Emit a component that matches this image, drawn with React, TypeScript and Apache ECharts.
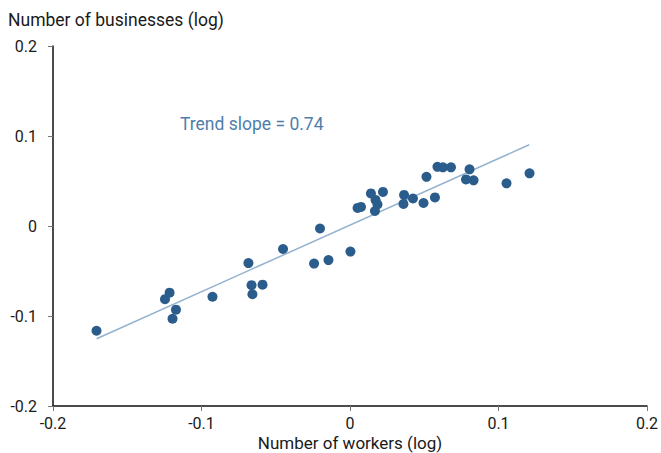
import React, { useEffect, useRef } from "react";
import * as echarts from "echarts";

// Log changes by area: workers (x) vs businesses (y)
const workersLog = [
  -0.1707, -0.1246, -0.1215, -0.1172, -0.1195, -0.0926, -0.0684, -0.0663, -0.0657,
  -0.0589, -0.0451, -0.0242, -0.0202, -0.0145, 0.0003, 0.0051, 0.0074, 0.0141,
  0.0222, 0.0172, 0.0185, 0.0168, 0.0364, 0.036, 0.0424, 0.0495, 0.0572, 0.0515,
  0.0589, 0.0626, 0.068, 0.0805, 0.0781, 0.0832, 0.1054, 0.1209,
];
const businessesLog = [
  -0.1164, -0.0813, -0.0741, -0.093, -0.1031, -0.0786, -0.0412, -0.0657, -0.0758,
  -0.0652, -0.0256, -0.0418, -0.0028, -0.0379, -0.0284, 0.0201, 0.0212, 0.0362,
  0.0379, 0.029, 0.024, 0.0167, 0.0345, 0.0245, 0.0306, 0.0256, 0.0318, 0.0546,
  0.0657, 0.0652, 0.0652, 0.063, 0.0518, 0.0507, 0.0474, 0.0585,
];

const trendSlope = 0.74;
const trendIntercept = 0.001;
const trendRange = [-0.1706, 0.1207];

const axisTicks = [-0.2, -0.1, 0, 0.1, 0.2];

const FONT = "Roboto, 'Noto Sans', sans-serif";
const TEXT = "#1a1a1a";

export default function App() {
  const ref = useRef<HTMLDivElement>(null);

  useEffect(() => {
    if (!ref.current) return;
    const chart = echarts.init(ref.current, undefined, { renderer: "svg" });

    const points = workersLog.map((x, i) => [x, businessesLog[i]]);
    const trend = trendRange.map((x) => [x, trendIntercept + trendSlope * x]);
    const fmt = (v: number) => {
      const r = Math.round(v * 10) / 10;
      return axisTicks.includes(r) ? (r === 0 ? "0" : String(r)) : "";
    };

    chart.setOption({
      animation: false,
      backgroundColor: "#ffffff",
      grid: {
        left: 53,
        right: 14,
        top: 46,
        bottom: 47,
        containLabel: false,
        outerBoundsMode: "none",
      },
      xAxis: {
        type: "value",
        min: -0.2,
        max: 0.2,
        interval: 0.1,
        axisLine: { show: true, onZero: false, lineStyle: { color: "#111", width: 1.5 } },
        axisTick: { show: true, inside: false, length: 5, lineStyle: { color: "#777" } },
        axisLabel: {
          margin: 10,
          fontFamily: FONT,
          fontSize: 16,
          lineHeight: 14,
          color: TEXT,
          formatter: fmt,
        },
        splitLine: { show: false },
      },
      yAxis: {
        type: "value",
        min: -0.2,
        max: 0.2,
        interval: 0.1,
        axisLine: { show: true, onZero: false, lineStyle: { color: "#111", width: 1.5 } },
        axisTick: { show: true, inside: false, length: 5, lineStyle: { color: "#777" } },
        axisLabel: {
          margin: 16,
          fontFamily: FONT,
          fontSize: 16,
          color: TEXT,
          formatter: fmt,
        },
        splitLine: { show: false },
      },
      graphic: [
        {
          type: "text",
          left: 8,
          top: 11,
          style: {
            text: "Number of businesses (log)",
            fontFamily: FONT,
            fontSize: 17.5,
            fill: TEXT,
          },
        },
        {
          type: "text",
          x: 350,
          y: 443,
          style: {
            text: "Number of workers (log)",
            fontFamily: FONT,
            fontSize: 17,
            lineHeight: 15,
            fill: TEXT,
            align: "center",
            verticalAlign: "middle",
          },
        },
        {
          type: "text",
          left: 180,
          top: 115,
          style: {
            text: "Trend slope = " + trendSlope.toFixed(2),
            fontFamily: FONT,
            fontSize: 17.5,
            fill: "#4f7eaa",
          },
        },
      ],
      series: [
        {
          type: "line",
          data: trend,
          symbol: "none",
          lineStyle: { color: "#93b2cf", width: 1.5 },
          z: 1,
        },
        {
          type: "scatter",
          data: points,
          symbol: "circle",
          symbolSize: 10,
          itemStyle: { color: "#2b5d8c", opacity: 1 },
          z: 2,
        },
      ],
    });

    return () => chart.dispose();
  }, []);

  return (
    <div
      ref={ref}
      style={{ position: "fixed", left: 0, top: 0, width: 661, height: 453, background: "#fff" }}
    />
  );
}
